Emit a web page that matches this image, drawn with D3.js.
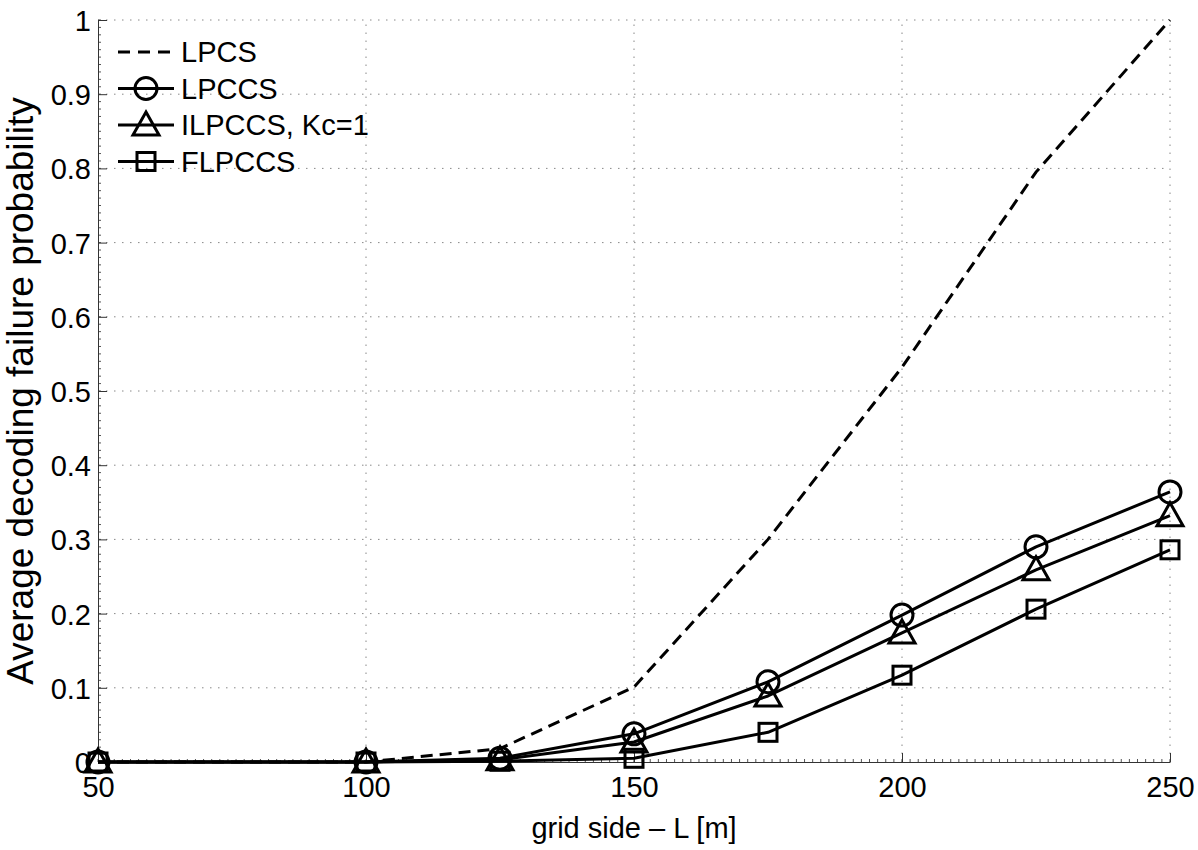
<!DOCTYPE html>
<html>
<head>
<meta charset="utf-8">
<script src="https://cdn.jsdelivr.net/npm/d3@7/dist/d3.min.js"></script>
<style>
html,body{margin:0;padding:0;background:#fff;}
svg{display:block;}
text{font-family:"Liberation Sans",Arial,Helvetica,sans-serif;fill:#000;}
</style>
</head>
<body>
<svg id="chart" width="1198" height="850"></svg>
<script>
const xValues = [50, 100, 125, 150, 175, 200, 225, 250];
const lpcs   = [0, 0, 0.018, 0.101, 0.300, 0.532, 0.795, 1.0];
const lpccs  = [0, 0, 0.005, 0.038, 0.108, 0.198, 0.290, 0.364];
const ilpccs = [0, 0, 0.003, 0.027, 0.089, 0.174, 0.259, 0.332];
const flpccs = [0, 0, 0.001, 0.005, 0.040, 0.117, 0.206, 0.286];
const xTicks = [50, 100, 150, 200, 250];
const yTicks = [0, 0.1, 0.2, 0.3, 0.4, 0.5, 0.6, 0.7, 0.8, 0.9, 1];
const seriesNames = ["LPCS", "LPCCS", "ILPCCS, Kc=1", "FLPCCS"];
const xLabel = "grid side \u2013 L [m]";
const yLabel = "Average decoding failure probability";

(function () {
const svg = d3.select("#chart");
const mLeft = 98, mRight = 1170, mTop = 20, mBottom = 762;
const x = d3.scaleLinear().domain([50, 250]).range([mLeft, mRight]);
const y = d3.scaleLinear().domain([0, 1]).range([mBottom, mTop]);

// grid
const grid = svg.append("g");
xTicks.slice(1).forEach(t => {
  grid.append("line").attr("x1", x(t)).attr("x2", x(t)).attr("y1", mBottom).attr("y2", mTop)
    .attr("stroke", "#888").attr("stroke-width", 1).attr("stroke-dasharray", "1.5,6.5");
});
yTicks.slice(1).forEach(t => {
  grid.append("line").attr("x1", mLeft).attr("x2", mRight).attr("y1", y(t)).attr("y2", y(t))
    .attr("stroke", "#888").attr("stroke-width", 1).attr("stroke-dasharray", "1.5,6.5");
});

// minor ticks
const minor = svg.append("g").attr("stroke", "#555").attr("stroke-width", 1);
d3.range(0, 1.0001, 0.01).forEach(t => {
  minor.append("line").attr("x1", mLeft).attr("x2", mLeft + 3).attr("y1", y(t)).attr("y2", y(t));
});
d3.range(50, 250.001, 50 / 33).forEach(t => {
  minor.append("line").attr("x1", x(t)).attr("x2", x(t)).attr("y1", mBottom).attr("y2", mBottom - 3);
});

// axes
const xAxis = d3.axisBottom(x).tickValues(xTicks).tickSizeInner(-9).tickSizeOuter(0).tickPadding(16).tickFormat(d3.format("d"));
const gx = svg.append("g").attr("transform", `translate(0,${mBottom})`).call(xAxis);
gx.select(".domain").attr("stroke", "#333");
gx.selectAll(".tick line").attr("stroke", "#333");
gx.selectAll("text").attr("font-size", 29).attr("dy", "0.78em").attr("y", 12);

const yAxis = d3.axisLeft(y).tickValues(yTicks).tickSizeInner(-9).tickSizeOuter(0).tickPadding(8)
  .tickFormat(d => d === 0 ? "0" : d === 1 ? "1" : d3.format(".1f")(d));
const gy = svg.append("g").attr("transform", `translate(${mLeft},0)`).call(yAxis);
gy.select(".domain").attr("stroke", "#333");
gy.selectAll(".tick line").attr("stroke", "#333");
gy.selectAll("text").attr("font-size", 29).attr("x", -7).attr("dy", "0.36em");

// labels
svg.append("text").attr("x", (mLeft + mRight) / 2).attr("y", 838).attr("text-anchor", "middle")
  .attr("font-size", 29).text(xLabel);
svg.append("text").attr("transform", `translate(33,391) rotate(-90)`)
  .attr("text-anchor", "middle").attr("font-size", 37).text(yLabel);

// lines
const line = d3.line().x((d, i) => x(xValues[i])).y(d => y(d));
const plot = svg.append("g");
plot.append("path").datum(lpcs).attr("d", line).attr("fill", "none").attr("stroke", "#000")
  .attr("stroke-width", 3).attr("stroke-dasharray", "12,7");
[lpccs, ilpccs, flpccs].forEach(s => {
  plot.append("path").datum(s).attr("d", line).attr("fill", "none").attr("stroke", "#000")
    .attr("stroke-width", 3).attr("stroke-linejoin", "round");
});

function marker(g, type, cx, cy) {
  if (type === "circle") {
    g.append("circle").attr("cx", cx).attr("cy", cy).attr("r", 11)
      .attr("fill", "none").attr("stroke", "#000").attr("stroke-width", 3);
  } else if (type === "triangle") {
    const w = 13, hTop = 13, hBot = 10;
    g.append("path").attr("d", `M${cx},${cy - hTop}L${cx + w},${cy + hBot}L${cx - w},${cy + hBot}Z`)
      .attr("fill", "none").attr("stroke", "#000").attr("stroke-width", 3).attr("stroke-linejoin", "miter");
  } else if (type === "square") {
    g.append("rect").attr("x", cx - 9).attr("y", cy - 9).attr("width", 18).attr("height", 18)
      .attr("fill", "none").attr("stroke", "#000").attr("stroke-width", 3);
  }
}
const mk = svg.append("g");
[[lpccs, "circle"], [ilpccs, "triangle"], [flpccs, "square"]].forEach(([s, t]) => {
  s.forEach((v, i) => marker(mk, t, x(xValues[i]), y(v)));
});

// legend
const leg = svg.append("g");
const legY = [52, 88.5, 125, 161.5];
const legTypes = [null, "circle", "triangle", "square"];
seriesNames.forEach((name, i) => {
  const ly = legY[i];
  const l = leg.append("line").attr("x1", 118).attr("x2", 174).attr("y1", ly).attr("y2", ly)
    .attr("stroke", "#000").attr("stroke-width", 3);
  if (i === 0) l.attr("stroke-dasharray", "12,8");
  if (legTypes[i]) marker(leg, legTypes[i], 146, ly);
  leg.append("text").attr("x", 181).attr("y", ly).attr("dy", "0.36em").attr("font-size", 29).text(name);
});
})();
</script>
</body>
</html>
